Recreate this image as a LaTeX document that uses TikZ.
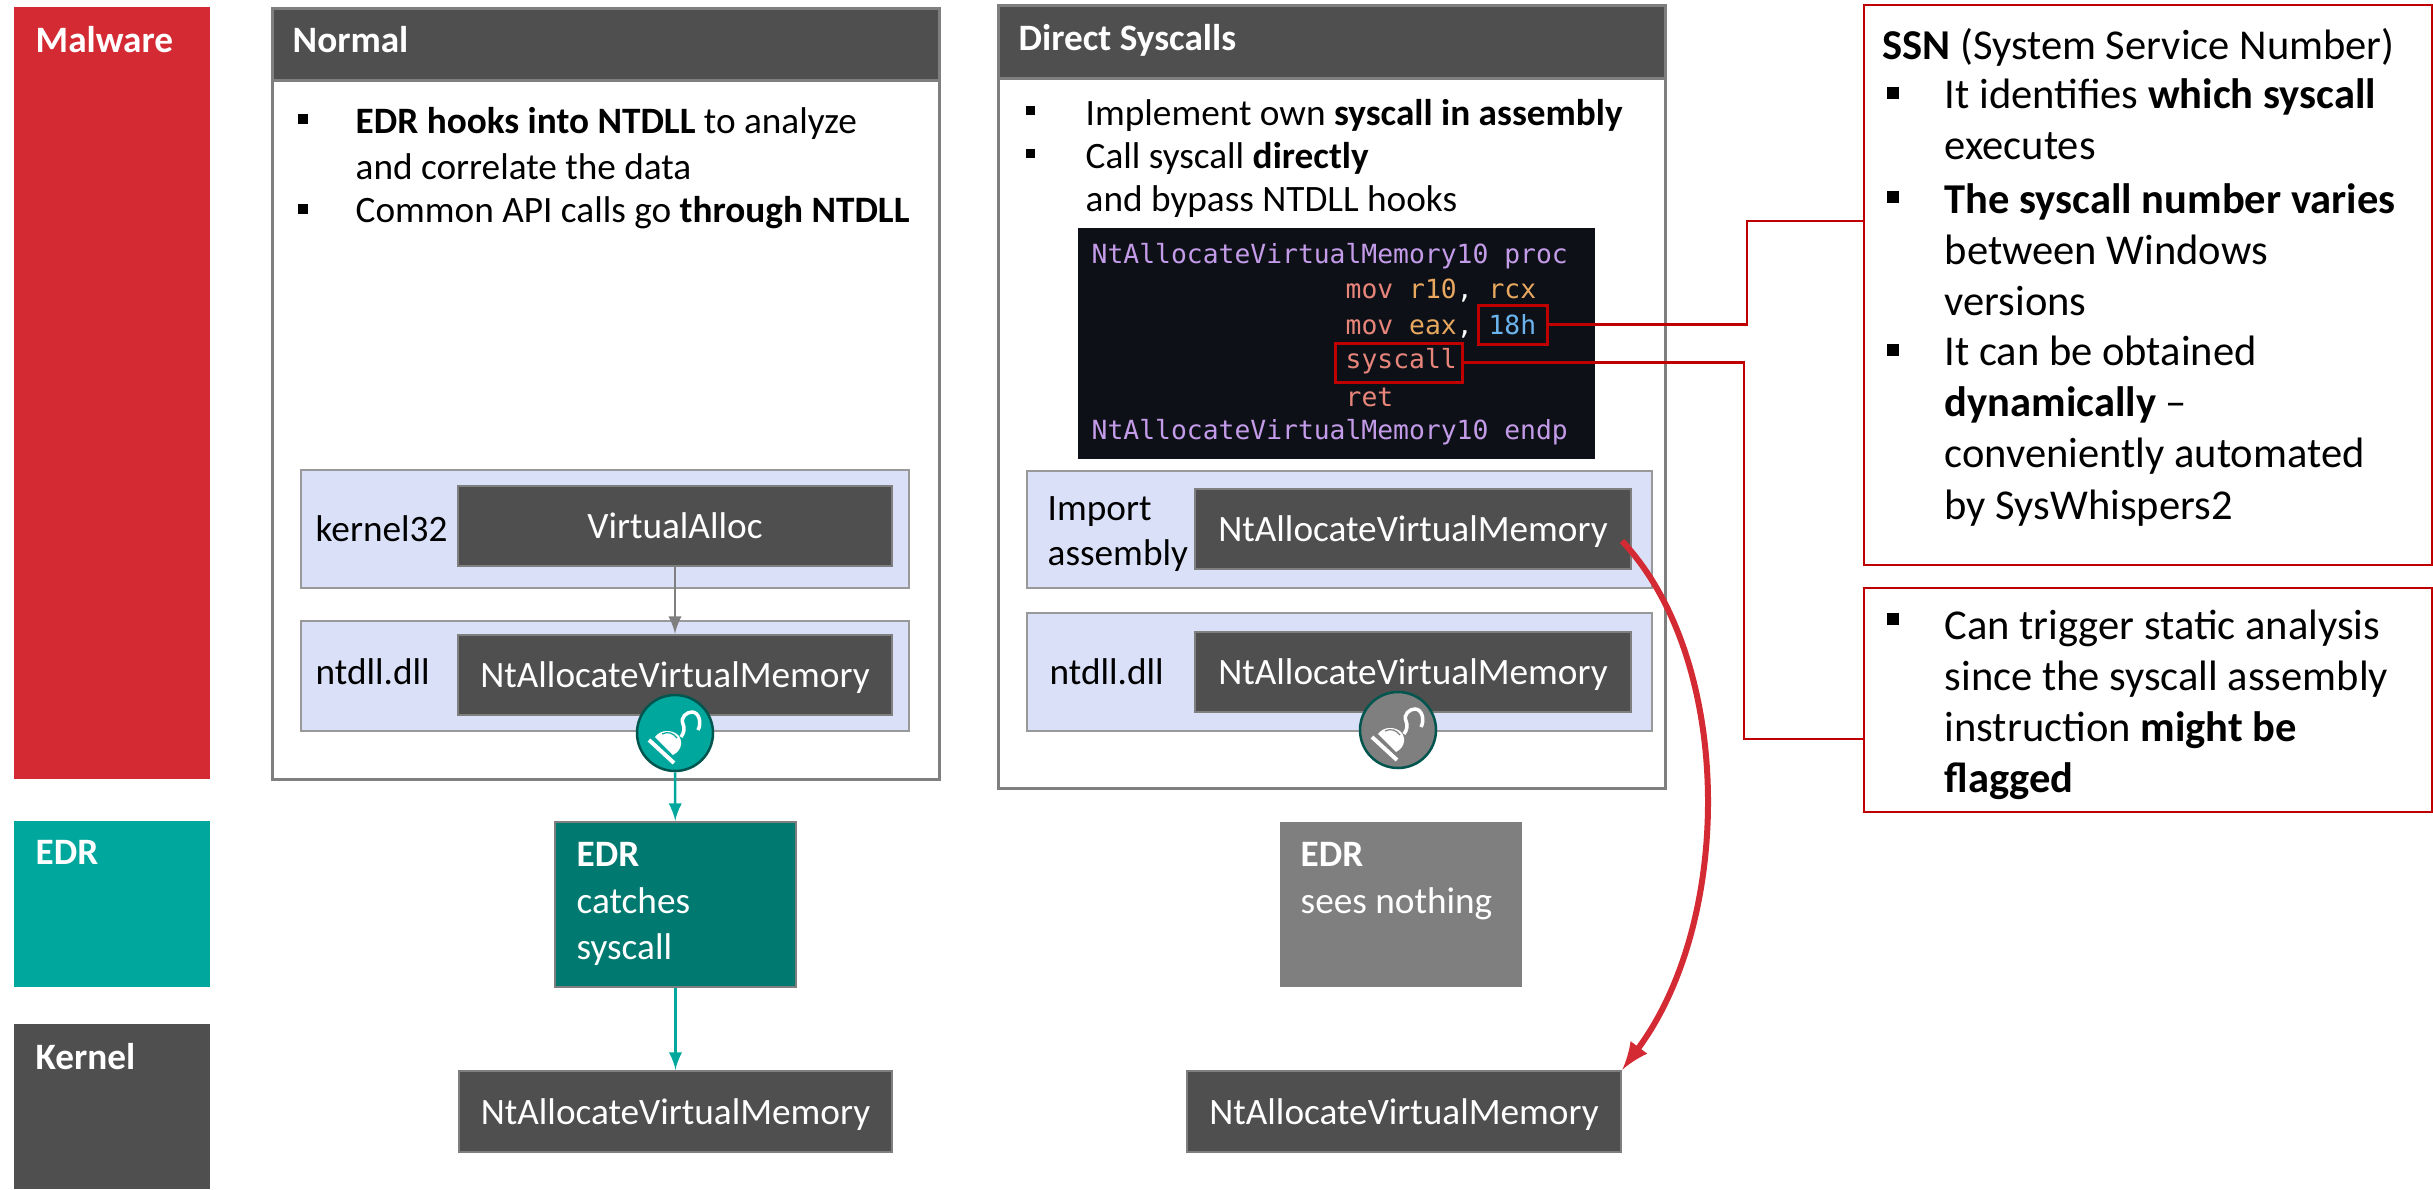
\documentclass[tikz,border=0pt]{standalone}
\usepackage{fontspec}
\setmainfont{Carlito}
\newfontfamily\codefont{DejaVu Sans Mono}
\usetikzlibrary{arrows}

\definecolor{malwarered}{HTML}{D32A33}
\definecolor{edrteal}{HTML}{00A79D}
\definecolor{edrdeep}{HTML}{007A70}
\definecolor{kerneldark}{HTML}{4F4F4F}
\definecolor{framegray}{HTML}{7F7F7F}
\definecolor{bandblue}{HTML}{D9E0F7}
\definecolor{markred}{HTML}{C00000}
\definecolor{codebg}{HTML}{0D1117}
\definecolor{codepurple}{HTML}{C39BE8}
\definecolor{codesalmon}{HTML}{E8857A}
\definecolor{codeorange}{HTML}{E8A860}
\definecolor{codeblue}{HTML}{6CB4EE}

\tikzset{
	box/.style={rectangle, inner sep=0},
	lane/.style={box, text=white},
	framebox/.style={box, draw=framegray, line width=0.03cm, fill=white},
	headbox/.style={box, draw=framegray, line width=0.03cm, fill=kerneldark},
	band/.style={box, draw=framegray!80, line width=0.025cm, fill=bandblue},
	darkbox/.style={box, draw=framegray, line width=0.025cm, fill=kerneldark, text=white, text height=0.25cm, text depth=0pt, font=\fontsize{10.6}{12.9}\selectfont},
	notebox/.style={box, draw=markred, line width=0.025cm, fill=white},
	redmark/.style={box, draw=markred, line width=0.03cm},
	titletext/.style={anchor=west, inner sep=0, text=white, font=\fontsize{10.6}{12.9}\selectfont\bfseries},
	bodytext/.style={anchor=west, inner sep=0, align=left, font=\fontsize{10.6}{12.9}\selectfont},
	sidetext/.style={anchor=west, inner sep=0, align=left, font=\fontsize{12.1}{14.55}\selectfont},
	squaremark/.style={rectangle, fill=black, inner sep=0, minimum size=#1},
	squaremark/.default=0.10cm,
	codetext/.style={anchor=west, inner sep=0, font=\fontsize{7.5}{9}\codefont},
	hookdisc/.style={circle, draw=#1, line width=0.025cm, inner sep=0, minimum size=0.76cm},
	pics/hookicon/.style={code={
		\draw [white, line width=0.04cm] (-0.26, 0.07) -- (-0.01, 0.30);
		\fill [white] (-0.20, 0.04) .. controls (-0.14, -0.04) and (-0.04, -0.03) .. (0.02, 0.01) .. controls (0.08, 0.06) and (0.08, 0.17) .. (-0.02, 0.22) -- cycle;
		\draw [#1, line width=0.012cm] (-0.13, 0.01) .. controls (-0.07, -0.02) and (-0.02, 0) .. (0.02, 0.05);
		\draw [white, line width=0.035cm] (0.06, 0.04) .. controls (0.09, 0) and (0.10, -0.05) .. (0.08, -0.09) .. controls (0.05, -0.16) and (0.12, -0.21) .. (0.17, -0.21) .. controls (0.24, -0.21) and (0.27, -0.10) .. (0.23, -0.03);
	}}
}

\begin{document}
\begin{tikzpicture}[y=-1cm]

	\useasboundingbox (0, 0) rectangle (24.33, 11.89);

	\node [lane, fill=malwarered, minimum width=1.955cm, minimum height=7.72cm] (malwarelane) at (1.12, 3.93) {};
	\node [lane, fill=edrteal, minimum width=1.955cm, minimum height=1.66cm] (edrlane) at (1.12, 9.04) {};
	\node [lane, fill=kerneldark, minimum width=1.955cm, minimum height=1.65cm] (kernellane) at (1.12, 11.065) {};
	\node [titletext] (malwaretitle) at (0.35, 0.40) {Malware};
	\node [titletext] (edrtitle) at (0.35, 8.52) {EDR};
	\node [titletext] (kerneltitle) at (0.35, 10.57) {Kernel};

	\node [framebox, minimum width=6.67cm, minimum height=7.71cm] (normalframe) at (6.055, 3.935) {};
	\node [headbox, minimum width=6.67cm, minimum height=0.72cm] (normalhead) at (6.055, 0.44) {};
	\node [titletext] (normaltitle) at (2.92, 0.40) {Normal};
	\node [squaremark] (normalsqa) at (3.025, 1.185) {};
	\node [bodytext] (normaltexta) at (3.55, 1.435) {\textbf{EDR hooks into NTDLL} to analyze\\and correlate the data};
	\node [squaremark] (normalsqb) at (3.025, 2.085) {};
	\node [bodytext] (normaltextb) at (3.55, 2.13) {Common API calls go \textbf{through NTDLL}};

	\node [band, minimum width=6.08cm, minimum height=1.18cm] (kernelband) at (6.05, 5.29) {};
	\node [bodytext] (kernellabel) at (3.15, 5.29) {kernel32};
	\node [darkbox, minimum width=4.34cm, minimum height=0.80cm] (virtualalloc) at (6.75, 5.26) {VirtualAlloc};
	\node [band, minimum width=6.08cm, minimum height=1.10cm] (ntdllband) at (6.05, 6.76) {};
	\node [bodytext] (ntdlllabel) at (3.15, 6.72) {ntdll.dll};
	\node [darkbox, minimum width=4.34cm, minimum height=0.80cm] (ntalloc) at (6.75, 6.75) {NtAllocateVirtualMemory};

	\node [framebox, minimum width=6.67cm, minimum height=7.83cm] (directframe) at (13.315, 3.965) {};
	\node [headbox, minimum width=6.67cm, minimum height=0.73cm] (directhead) at (13.315, 0.415) {};
	\node [titletext] (directtitle) at (10.18, 0.40) {Direct Syscalls};
	\node [squaremark=0.09cm] (directsqa) at (10.305, 1.105) {};
	\node [bodytext] (directtexta) at (10.85, 1.15) {Implement own \textbf{syscall in assembly}};
	\node [squaremark=0.09cm] (directsqb) at (10.305, 1.535) {};
	\node [bodytext, font=\fontsize{10.6}{12.4}\selectfont] (directtextb) at (10.85, 1.80) {Call syscall \textbf{directly}\\and bypass NTDLL hooks};

	\node [box, fill=codebg, minimum width=5.17cm, minimum height=2.31cm] (codepanel) at (13.365, 3.435) {};
	\node [codetext, text=codepurple] (codeproc) at (10.91, 2.56) {NtAllocateVirtualMemory10 proc};
	\node [codetext] (codemova) at (13.45, 2.91) {\textcolor{codesalmon}{mov} \textcolor{codeorange}{r10}\textcolor{white}{,} \textcolor{codeorange}{rcx}};
	\node [codetext] (codemovb) at (13.45, 3.26) {\textcolor{codesalmon}{mov} \textcolor{codeorange}{eax}\textcolor{white}{,} \textcolor{codeblue}{18h}};
	\node [codetext, text=codesalmon] (codesys) at (13.45, 3.61) {syscall};
	\node [codetext, text=codesalmon] (coderet) at (13.45, 3.97) {ret};
	\node [codetext, text=codepurple] (codeendp) at (10.91, 4.32) {NtAllocateVirtualMemory10 endp};
	\node [redmark, minimum width=0.69cm, minimum height=0.39cm] (ssnmark) at (15.125, 3.245) {};
	\node [redmark, minimum width=1.27cm, minimum height=0.39cm] (sysmark) at (13.985, 3.625) {};

	\node [band, minimum width=6.25cm, minimum height=1.17cm] (importband) at (13.395, 5.295) {};
	\node [bodytext] (importlabel) at (10.47, 5.34) {Import\\assembly};
	\node [darkbox, minimum width=4.36cm, minimum height=0.80cm] (importalloc) at (14.13, 5.29) {NtAllocateVirtualMemory};
	\node [band, minimum width=6.25cm, minimum height=1.18cm] (directband) at (13.395, 6.72) {};
	\node [bodytext] (directlabel) at (10.49, 6.72) {ntdll.dll};
	\node [darkbox, minimum width=4.36cm, minimum height=0.80cm] (directalloc) at (14.13, 6.72) {NtAllocateVirtualMemory};

	\node [box, draw=framegray, line width=0.025cm, fill=edrdeep, minimum width=2.41cm, minimum height=1.65cm] (edrcatch) at (6.755, 9.045) {};
	\node [bodytext, text=white, font=\fontsize{10.6}{13.2}\selectfont] (edrcatchtext) at (5.76, 9.04) {\textbf{EDR}\\catches\\syscall};
	\node [box, fill=framegray, minimum width=2.42cm, minimum height=1.65cm] (edrnone) at (14.005, 9.045) {};
	\node [bodytext, text=white, font=\fontsize{10.6}{13.2}\selectfont] (edrnonetext) at (13.00, 8.81) {\textbf{EDR}\\sees nothing};

	\node [darkbox, minimum width=4.33cm, minimum height=0.81cm] (kernela) at (6.755, 11.115) {NtAllocateVirtualMemory};
	\node [darkbox, minimum width=4.34cm, minimum height=0.81cm] (kernelb) at (14.04, 11.115) {NtAllocateVirtualMemory};

	\node [notebox, minimum width=5.68cm, minimum height=5.60cm] (ssnnote) at (21.48, 2.85) {};
	\node [sidetext] (ssntitle) at (18.82, 0.47) {\textbf{SSN} (System Service Number)};
	\node [squaremark=0.12cm] (ssnsqa) at (18.93, 0.93) {};
	\node [sidetext] (ssntexta) at (19.44, 1.19) {It identifies \textbf{which syscall}\\executes};
	\node [squaremark=0.12cm] (ssnsqb) at (18.93, 1.965) {};
	\node [sidetext] (ssntextb) at (19.44, 2.50) {\textbf{The syscall number varies}\\between Windows\\versions};
	\node [squaremark=0.12cm] (ssnsqc) at (18.93, 3.50) {};
	\node [sidetext] (ssntextc) at (19.44, 4.31) {It can be obtained\\\textbf{dynamically} --\\conveniently automated\\by SysWhispers2};
	\node [notebox, minimum width=5.68cm, minimum height=2.24cm] (flagnote) at (21.48, 7.00) {};
	\node [squaremark=0.12cm] (flagsq) at (18.93, 6.19) {};
	\node [sidetext] (flagtext) at (19.44, 7.05) {Can trigger static analysis\\since the syscall assembly\\instruction \textbf{might be}\\\textbf{flagged}};

	\node [hookdisc=edrdeep!70!black, fill=edrteal] (hookon) at (6.75, 7.33) {};
	\pic at (hookon.center) {hookicon=edrteal};
	\node [hookdisc=edrdeep!70!black, fill=framegray] (hookoff) at (13.98, 7.30) {};
	\pic at (hookoff.center) {hookicon=framegray};

	\coordinate (ssnturn) at (17.47, 2.21);
	\coordinate (flagturn) at (17.44, 7.39);
	\coordinate (curvestart) at (16.22, 5.41);
	\draw [markred, line width=0.025cm] (ssnmark.east) -| (ssnturn) -- (ssnnote.west |- ssnturn);
	\draw [markred, line width=0.025cm] (sysmark.east) -| (flagturn) -- (flagnote.west |- flagturn);
	\draw [arrows={-latex}, framegray, line width=0.025cm] (virtualalloc) -- (ntalloc);
	\draw [arrows={-latex}, edrteal, line width=0.025cm] (hookon) -- (edrcatch);
	\draw [arrows={-latex}, edrteal, line width=0.025cm] (edrcatch) -- (edrcatch |- kernela.north);
	\draw [arrows={-latex}, malwarered, line width=0.06cm] (curvestart) .. controls (17.34, 6.6) and (17.34, 9.2) .. (kernelb.north east);

\end{tikzpicture}
\end{document}
